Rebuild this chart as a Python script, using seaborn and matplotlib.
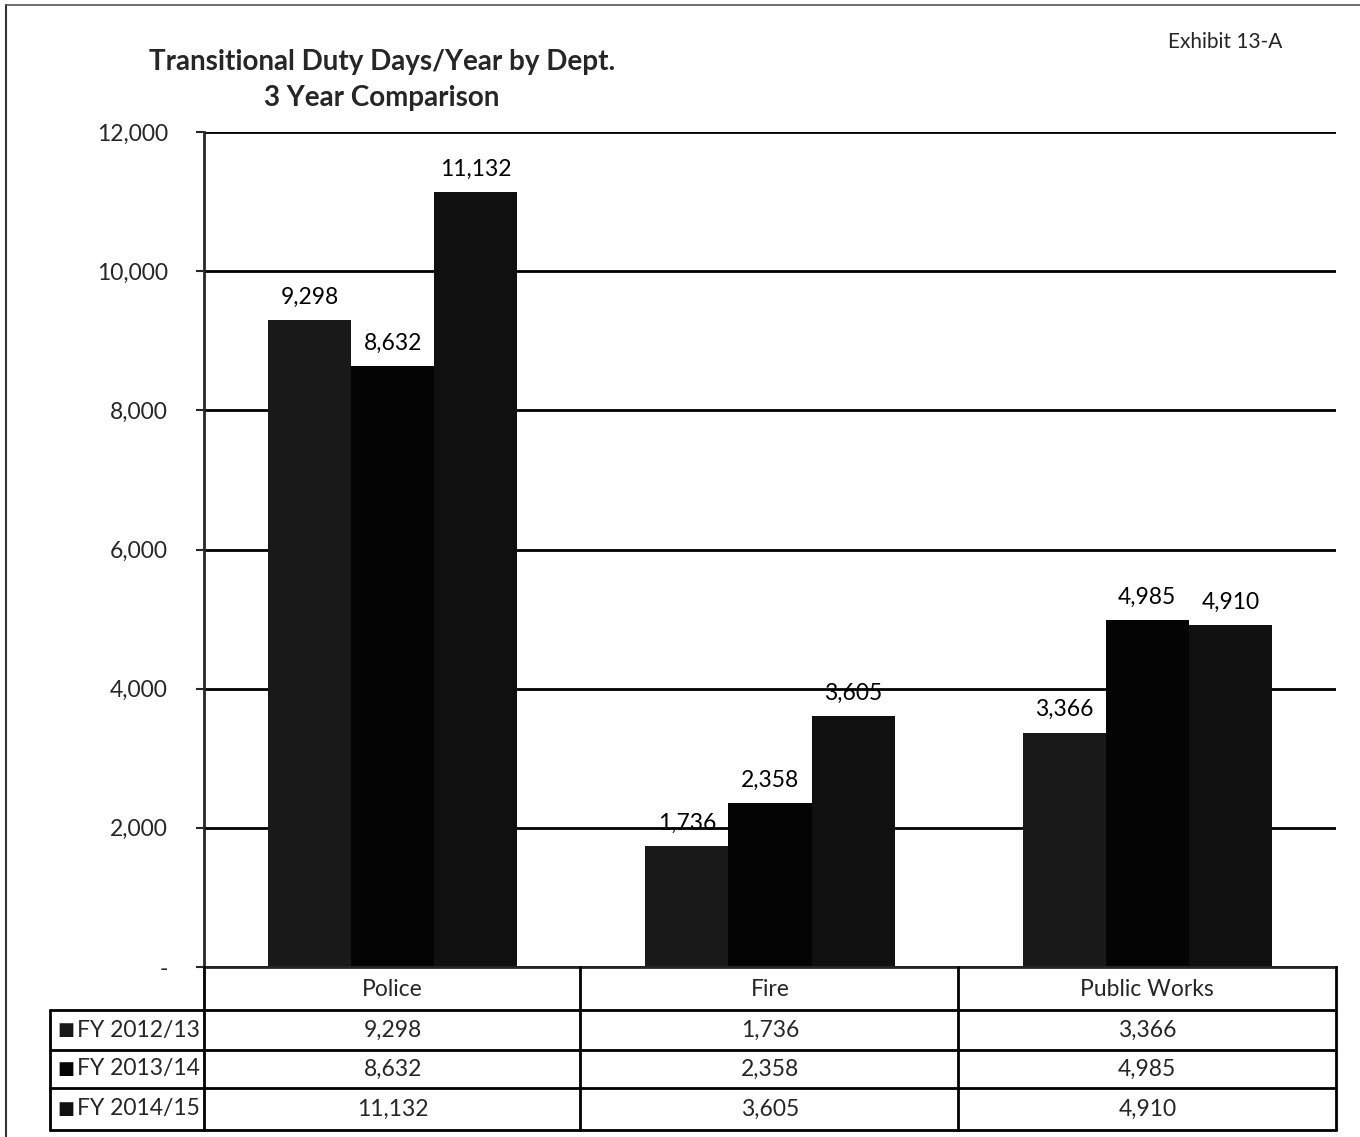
import seaborn as sns
import pandas as pd
import numpy as np
import matplotlib.pyplot as plt
from matplotlib.lines import Line2D
from matplotlib.transforms import blended_transform_factory

depts = ['Police', 'Fire', 'Public Works']
years = ['FY 2012/13', 'FY 2013/14', 'FY 2014/15']
fy1213 = [9298, 1736, 3366]
fy1314 = [8632, 2358, 4985]
fy1415 = [11132, 3605, 4910]
bar_colors = ['#191919', '#040404', '#101010']

df = pd.DataFrame({'dept': depts * 3,
                   'year': [years[0]] * 3 + [years[1]] * 3 + [years[2]] * 3,
                   'days': fy1213 + fy1314 + fy1415})

sns.set_style('white')
plt.rcParams['font.family'] = ['Lato', 'DejaVu Sans']

W, H = 1360, 1137
fig = plt.figure(figsize=(W / 100, H / 100), dpi=100)
ax = fig.add_axes([204 / W, 1 - 967 / H, 1132 / W, 835 / H])

def fy(py):
    return 1 - py / H

def fx(px):
    return px / W

sns.barplot(data=df, x='dept', y='days', hue='year', palette=bar_colors,
            width=0.66, gap=0, saturation=1, legend=False, linewidth=0, ax=ax)

for cont in ax.containers:
    ax.bar_label(cont, labels=[f'{v:,.0f}' for v in cont.datavalues],
                 padding=9, fontsize=16.5, color='black')

ax.set_xlim(-0.5, 2.5)
ax.set_ylim(0, 12000)
ax.set_yticks(range(0, 12001, 2000))
ax.set_yticklabels(['-'] + [f'{v:,}' for v in range(2000, 12001, 2000)])
ax.tick_params(axis='y', labelsize=16.5, length=6, width=1.5, pad=20, direction='out', left=True)
ax.set_xticks([])
ax.set_xlabel('')
ax.set_ylabel('')
ax.grid(axis='y', color='black', linewidth=2)
ax.set_axisbelow(True)
for s in ['top', 'right']:
    ax.spines[s].set_visible(False)
ax.spines['left'].set_linewidth(2)
ax.spines['bottom'].set_linewidth(2)

# titles
fig.text(fx(382), fy(62), 'Transitional Duty Days/Year by Dept.', ha='center', va='center',
         fontsize=20, fontweight='bold')
fig.text(fx(382), fy(98), '3 Year Comparison', ha='center', va='center',
         fontsize=20, fontweight='bold')
fig.text(fx(1168), fy(42), 'Exhibit 13-A', ha='left', va='center', fontsize=15)

# scanned page frame
fig.add_artist(Line2D([fx(6), fx(6)], [fy(5), fy(1137)], color='#333333', lw=1.5))
fig.add_artist(Line2D([fx(6), fx(1360)], [fy(5), fy(5)], color='#555555', lw=1.2))

# data table below the plot
lw = 2
col_edges = [204, 580, 958, 1336]
for x in col_edges:
    fig.add_artist(Line2D([fx(x), fx(x)], [fy(967), fy(1130)], color='black', lw=lw))
fig.add_artist(Line2D([fx(50), fx(50)], [fy(1010), fy(1130)], color='black', lw=lw))
for y in [1010, 1050, 1088, 1130]:
    fig.add_artist(Line2D([fx(50), fx(1336)], [fy(y), fy(y)], color='black', lw=lw))

trans = blended_transform_factory(ax.transData, fig.transFigure)
for i, d in enumerate(depts):
    ax.text(i, fy(989), d, ha='center', va='center', fontsize=16.5, transform=trans, clip_on=False)

rows = [fy1213, fy1314, fy1415]
row_y = [1030, 1069, 1109]
for r, (vals, yy) in enumerate(zip(rows, row_y)):
    fig.text(fx(57), fy(yy), '■', ha='left', va='center', fontsize=13,
             color=bar_colors[r], family='DejaVu Sans')
    fig.text(fx(77), fy(yy), years[r], ha='left', va='center', fontsize=16.5)
    for i, v in enumerate(vals):
        ax.text(i, fy(yy), f'{v:,}', ha='center', va='center', fontsize=16.5,
                transform=trans, clip_on=False)

fig.savefig('out.png', dpi=100)
